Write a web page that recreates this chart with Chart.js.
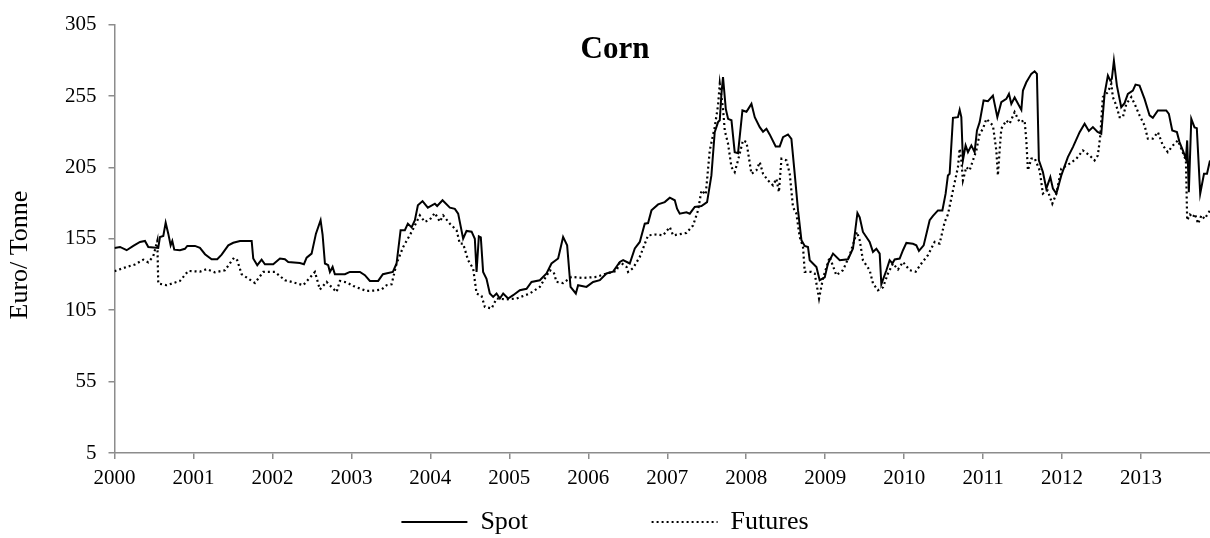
<!DOCTYPE html>
<html>
<head>
<meta charset="utf-8">
<script src="https://cdn.jsdelivr.net/npm/chart.js@4.4.0/dist/chart.umd.min.js"></script>
<style>
  html, body { margin: 0; padding: 0; background: #fff; }
  #wrap { width: 1210px; height: 538px; }
</style>
</head>
<body>
<div id="wrap"><canvas id="cornChart" width="1210" height="538"></canvas></div>
<script>
// Corn: weekly spot vs futures, Euro/Tonne
const chartTitle = 'Corn';
const yTitle = 'Euro/ Tonne';
const seriesNames = ['Spot', 'Futures'];

const spotYears = [
  2000.000, 2000.070, 2000.154, 2000.238, 2000.323, 2000.386, 2000.428, 2000.554, 2000.576, 2000.618,
  2000.648, 2000.681, 2000.711, 2000.732, 2000.757, 2000.829, 2000.892, 2000.922, 2001.019, 2001.082,
  2001.146, 2001.230, 2001.301, 2001.357, 2001.441, 2001.504, 2001.589, 2001.737, 2001.757, 2001.808,
  2001.863, 2001.905, 2002.010, 2002.095, 2002.158, 2002.200, 2002.348, 2002.399, 2002.433, 2002.496,
  2002.551, 2002.610, 2002.635, 2002.665, 2002.706, 2002.728, 2002.762, 2002.791, 2002.918, 2002.981,
  2003.108, 2003.171, 2003.234, 2003.339, 2003.399, 2003.525, 2003.572, 2003.623, 2003.677, 2003.715,
  2003.762, 2003.804, 2003.842, 2003.901, 2003.968, 2004.057, 2004.086, 2004.154, 2004.247, 2004.310,
  2004.352, 2004.415, 2004.458, 2004.522, 2004.563, 2004.585, 2004.614, 2004.639, 2004.668, 2004.711,
  2004.753, 2004.795, 2004.838, 2004.880, 2004.922, 2004.985, 2005.048, 2005.133, 2005.218, 2005.281,
  2005.386, 2005.471, 2005.534, 2005.618, 2005.681, 2005.732, 2005.775, 2005.842, 2005.871, 2005.977,
  2006.061, 2006.146, 2006.230, 2006.314, 2006.399, 2006.441, 2006.525, 2006.589, 2006.652, 2006.715,
  2006.757, 2006.800, 2006.884, 2006.968, 2007.032, 2007.095, 2007.124, 2007.158, 2007.243, 2007.285,
  2007.348, 2007.433, 2007.504, 2007.559, 2007.601, 2007.643, 2007.665, 2007.686, 2007.706, 2007.741,
  2007.770, 2007.813, 2007.854, 2007.896, 2007.952, 2008.003, 2008.066, 2008.108, 2008.171, 2008.213,
  2008.256, 2008.297, 2008.373, 2008.424, 2008.466, 2008.529, 2008.572, 2008.614, 2008.656, 2008.699,
  2008.741, 2008.782, 2008.804, 2008.889, 2008.930, 2008.994, 2009.035, 2009.099, 2009.184, 2009.289,
  2009.352, 2009.408, 2009.437, 2009.478, 2009.563, 2009.605, 2009.648, 2009.690, 2009.711, 2009.775,
  2009.816, 2009.851, 2009.880, 2009.943, 2009.985, 2010.028, 2010.111, 2010.154, 2010.187, 2010.247,
  2010.323, 2010.365, 2010.428, 2010.484, 2010.525, 2010.554, 2010.576, 2010.618, 2010.681, 2010.703,
  2010.724, 2010.744, 2010.778, 2010.808, 2010.851, 2010.892, 2010.922, 2010.956, 2011.006, 2011.061,
  2011.124, 2011.180, 2011.230, 2011.294, 2011.327, 2011.357, 2011.399, 2011.484, 2011.504, 2011.547,
  2011.610, 2011.652, 2011.681, 2011.706, 2011.757, 2011.800, 2011.851, 2011.884, 2011.927, 2011.990,
  2012.073, 2012.137, 2012.222, 2012.285, 2012.339, 2012.390, 2012.449, 2012.496, 2012.538, 2012.580,
  2012.610, 2012.630, 2012.656, 2012.694, 2012.749, 2012.791, 2012.833, 2012.896, 2012.930, 2012.981,
  2013.044, 2013.108, 2013.149, 2013.213, 2013.319, 2013.352, 2013.395, 2013.454, 2013.487, 2013.529,
  2013.568, 2013.584, 2013.605, 2013.636, 2013.677, 2013.706, 2013.749, 2013.797, 2013.835, 2013.873
];
const spotValues = [
  148.6, 149.3, 147.0, 150.0, 152.8, 153.5, 149.3, 148.6, 156.3, 157.0,
  166.3, 158.6, 150.4, 153.5, 147.4, 147.0, 148.0, 150.0, 150.0, 148.6,
  144.2, 140.7, 140.7, 143.9, 150.4, 152.2, 153.5, 153.5, 141.2, 136.5,
  140.4, 137.2, 137.2, 141.2, 140.7, 138.8, 138.0, 137.2, 141.8, 144.6,
  158.6, 168.0, 158.0, 137.7, 136.5, 131.8, 135.3, 130.2, 130.2, 131.8,
  131.8, 129.5, 125.5, 125.5, 130.2, 131.8, 137.7, 161.0, 161.0, 165.6,
  163.0, 168.0, 178.4, 181.4, 176.8, 179.6, 178.0, 182.0, 176.8, 176.0,
  172.6, 155.1, 160.5, 160.0, 155.0, 131.8, 156.7, 156.0, 131.8, 127.0,
  116.7, 114.3, 116.7, 113.2, 116.7, 113.2, 115.5, 119.0, 120.0, 124.8,
  126.0, 130.7, 137.7, 141.2, 156.3, 150.4, 121.3, 116.7, 122.5, 121.3,
  124.8, 126.0, 130.7, 132.0, 138.8, 140.0, 137.7, 148.2, 152.8, 165.6,
  166.0, 174.9, 179.1, 180.7, 183.8, 182.0, 176.1, 172.6, 173.5, 172.6,
  177.3, 178.0, 180.7, 199.4, 229.7, 236.7, 238.0, 256.5, 268.2, 246.0,
  239.0, 238.0, 215.7, 215.0, 244.9, 244.0, 249.5, 240.2, 233.2, 230.0,
  232.0, 228.1, 219.7, 219.7, 226.2, 228.1, 225.0, 200.5, 174.9, 154.0,
  150.0, 149.3, 140.0, 135.3, 126.0, 128.0, 137.7, 144.6, 140.0, 140.7,
  148.2, 173.1, 170.0, 159.8, 152.8, 145.8, 148.0, 144.6, 123.2, 133.0,
  140.0, 137.7, 140.5, 141.2, 147.0, 152.1, 151.5, 150.5, 146.5, 150.4,
  168.0, 171.0, 174.9, 174.9, 186.6, 199.4, 200.5, 239.7, 240.2, 245.3,
  240.2, 209.9, 220.4, 215.7, 220.4, 215.7, 230.9, 236.7, 251.9, 251.4,
  255.3, 240.2, 250.7, 253.0, 256.5, 249.5, 254.0, 245.3, 258.8, 264.6,
  270.5, 272.3, 270.5, 209.9, 201.7, 190.1, 198.2, 190.1, 186.6, 199.4,
  212.2, 219.2, 229.7, 235.6, 230.5, 233.2, 229.8, 228.6, 256.5, 269.3,
  265.8, 267.0, 279.8, 262.3, 247.2, 250.0, 256.5, 258.8, 263.0, 262.3,
  253.0, 241.4, 239.7, 244.9, 244.9, 242.5, 230.9, 229.7, 222.7, 216.9,
  211.1, 223.9, 187.7, 239.0, 233.0, 232.5, 186.6, 200.5, 200.5, 209.9
];

const futuresYears = [
  2000.000, 2000.154, 2000.259, 2000.365, 2000.428, 2000.491, 2000.542, 2000.554, 2000.661, 2000.829,
  2000.934, 2001.082, 2001.167, 2001.272, 2001.399, 2001.513, 2001.554, 2001.610, 2001.778, 2001.884,
  2002.032, 2002.158, 2002.243, 2002.390, 2002.538, 2002.601, 2002.686, 2002.753, 2002.813, 2002.854,
  2002.939, 2003.023, 2003.108, 2003.192, 2003.297, 2003.382, 2003.446, 2003.509, 2003.572, 2003.656,
  2003.762, 2003.867, 2003.930, 2003.994, 2004.057, 2004.120, 2004.162, 2004.247, 2004.332, 2004.373,
  2004.415, 2004.478, 2004.542, 2004.585, 2004.648, 2004.690, 2004.775, 2004.838, 2004.965, 2005.091,
  2005.259, 2005.386, 2005.513, 2005.563, 2005.597, 2005.681, 2005.787, 2005.934, 2006.104, 2006.230,
  2006.357, 2006.399, 2006.484, 2006.504, 2006.567, 2006.652, 2006.757, 2006.863, 2006.947, 2007.032,
  2007.074, 2007.243, 2007.327, 2007.390, 2007.433, 2007.487, 2007.538, 2007.601, 2007.643, 2007.665,
  2007.706, 2007.728, 2007.770, 2007.813, 2007.854, 2007.896, 2007.959, 2008.003, 2008.066, 2008.129,
  2008.171, 2008.213, 2008.276, 2008.339, 2008.382, 2008.414, 2008.446, 2008.509, 2008.551, 2008.592,
  2008.635, 2008.677, 2008.719, 2008.741, 2008.825, 2008.867, 2008.922, 2008.972, 2009.057, 2009.141,
  2009.225, 2009.310, 2009.402, 2009.437, 2009.478, 2009.563, 2009.605, 2009.668, 2009.732, 2009.795,
  2009.858, 2009.922, 2009.985, 2010.070, 2010.146, 2010.218, 2010.301, 2010.386, 2010.449, 2010.513,
  2010.554, 2010.618, 2010.681, 2010.703, 2010.724, 2010.744, 2010.787, 2010.829, 2010.871, 2010.914,
  2010.956, 2010.997, 2011.041, 2011.082, 2011.124, 2011.167, 2011.187, 2011.209, 2011.230, 2011.294,
  2011.335, 2011.399, 2011.462, 2011.525, 2011.547, 2011.567, 2011.610, 2011.652, 2011.716, 2011.757,
  2011.816, 2011.876, 2011.927, 2011.990, 2012.095, 2012.180, 2012.263, 2012.348, 2012.411, 2012.453,
  2012.484, 2012.516, 2012.580, 2012.623, 2012.643, 2012.686, 2012.728, 2012.770, 2012.813, 2012.876,
  2012.918, 2012.981, 2013.044, 2013.086, 2013.149, 2013.213, 2013.276, 2013.339, 2013.403, 2013.466,
  2013.509, 2013.568, 2013.584, 2013.619, 2013.656, 2013.681, 2013.723, 2013.765, 2013.805, 2013.873
];
const futuresValues = [
  132.3, 135.3, 137.0, 140.4, 138.5, 142.8, 153.5, 123.7, 122.5, 125.5,
  132.5, 132.0, 133.7, 131.5, 133.0, 141.7, 140.0, 130.2, 124.1, 131.8,
  131.8, 126.0, 124.8, 122.5, 131.8, 119.5, 124.8, 121.0, 117.8, 125.5,
  124.5, 122.0, 120.2, 118.5, 118.8, 119.5, 122.5, 123.2, 137.7, 149.3,
  159.8, 171.4, 166.8, 168.5, 173.1, 167.0, 171.4, 165.6, 161.0, 151.6,
  151.6, 140.0, 134.2, 116.7, 115.0, 107.3, 106.2, 113.2, 112.5, 113.2,
  116.7, 121.3, 133.0, 131.5, 124.8, 124.0, 128.3, 127.6, 128.3, 130.7,
  132.5, 138.8, 135.3, 131.8, 134.5, 142.3, 157.4, 158.0, 157.4, 163.2,
  157.4, 159.1, 164.4, 174.9, 188.9, 186.0, 216.9, 233.2, 248.4, 263.5,
  246.0, 230.9, 221.5, 205.2, 201.7, 209.9, 223.9, 222.7, 200.5, 202.9,
  208.7, 200.5, 195.9, 192.4, 197.0, 187.7, 211.1, 209.9, 200.5, 177.3,
  172.6, 156.3, 149.3, 131.8, 131.8, 130.7, 113.2, 127.3, 142.3, 129.5,
  133.0, 143.5, 159.8, 154.0, 140.0, 133.0, 123.7, 119.0, 121.0, 130.7,
  137.7, 133.5, 138.8, 133.0, 132.0, 137.7, 143.5, 152.8, 151.6, 166.8,
  172.0, 188.9, 205.2, 218.1, 210.0, 195.9, 205.2, 203.0, 209.9, 216.9,
  228.6, 232.0, 239.0, 236.7, 234.4, 216.9, 199.4, 216.9, 232.1, 237.9,
  235.6, 243.7, 236.7, 237.9, 223.9, 202.9, 211.1, 211.5, 202.9, 186.6,
  188.9, 179.6, 186.6, 204.1, 207.6, 211.0, 216.9, 213.4, 209.9, 213.4,
  227.4, 254.2, 257.7, 263.5, 254.2, 248.4, 240.2, 240.2, 249.5, 254.2,
  249.5, 241.4, 234.4, 225.1, 225.1, 229.7, 220.4, 215.7, 220.4, 223.9,
  218.1, 209.9, 168.0, 172.0, 170.0, 172.5, 165.6, 171.5, 169.0, 174.9
];

// axis ranges and ticks
const xMin = 2000;
const xMax = 2013.873;
const yMin = 5;
const yMax = 305;
const yStep = 50;

const serif = "'Liberation Serif', 'Times New Roman', serif";
const axisGrey = '#8c8c8c';

function toPoints(xs, ys) {
    return xs.map((x, i) => ({ x: x, y: ys[i] }));
}

// title sits inside the plot area, so draw it ourselves
const titlePlugin = {
    id: 'cornTitle',
    afterDraw(chart) {
        const c = chart.ctx;
        c.save();
        c.font = 'bold 31px ' + serif;
        c.fillStyle = '#000';
        c.textAlign = 'center';
        c.textBaseline = 'alphabetic';
        c.fillText(chartTitle, 615, 58);
        c.restore();
    }
};

const axisGrid = {
    drawOnChartArea: false,
    drawTicks: true,
    tickLength: 6,
    color: axisGrey,
    lineWidth: 1.5,
};

const ctx = document.getElementById('cornChart').getContext('2d');
const chart = new Chart(ctx, {
    type: 'line',
    data: {
        datasets: [{
            label: seriesNames[0],
            data: toPoints(spotYears, spotValues),
            borderColor: '#000',
            borderWidth: 2,
            pointRadius: 0,
            tension: 0,
            fill: false,
        }, {
            label: seriesNames[1],
            data: toPoints(futuresYears, futuresValues),
            borderColor: '#000',
            borderWidth: 2.2,
            borderDash: [2, 3],
            pointRadius: 0,
            tension: 0,
            fill: false,
        }],
    },
    options: {
        responsive: false,
        animation: false,
        layout: { padding: { top: 24, left: 0, right: 0, bottom: -7 } },
        scales: {
            x: {
                type: 'linear',
                min: xMin,
                max: xMax,
                ticks: {
                    stepSize: 1,
                    includeBounds: false,
                    autoSkip: false,
                    maxRotation: 0,
                    padding: 7,
                    color: '#000',
                    font: { family: serif, size: 21 },
                    callback: (v) => String(v),
                },
                grid: axisGrid,
                border: { color: axisGrey, width: 1.5 },
                afterFit: (scale) => { scale.height = 56; },
            },
            y: {
                min: yMin,
                max: yMax,
                ticks: {
                    stepSize: yStep,
                    padding: 12,
                    color: '#000',
                    font: { family: serif, size: 21 },
                },
                grid: axisGrid,
                border: { color: axisGrey, width: 1.5 },
                title: {
                    display: true,
                    text: yTitle + '     ',
                    color: '#000',
                    font: { family: serif, size: 26 },
                    padding: { top: 5, bottom: 0 },
                },
                afterFit: (scale) => { scale.width = 114.5; },
            },
        },
        plugins: {
            title: { display: false },
            tooltip: { enabled: false },
            legend: {
                position: 'bottom',
                labels: {
                    usePointStyle: true,
                    pointStyle: 'line',
                    pointStyleWidth: 66,
                    padding: 0,
                    color: '#000',
                    font: { family: serif, size: 26 },
                    // take line style from the dataset, and leave a wide gap between entries
                    generateLabels: (ch) => Chart.defaults.plugins.legend.labels.generateLabels(ch)
                        .map((item, i) => {
                            const ds = ch.data.datasets[i];
                            item.lineDash = ds.borderDash || [];
                            item.lineWidth = ds.borderWidth;
                            item.strokeStyle = ds.borderColor;
                            if (i === 0) item.text = item.text + ' '.repeat(19);
                            return item;
                        }),
                },
            },
        },
    },
    plugins: [titlePlugin],
});
</script>
</body>
</html>
